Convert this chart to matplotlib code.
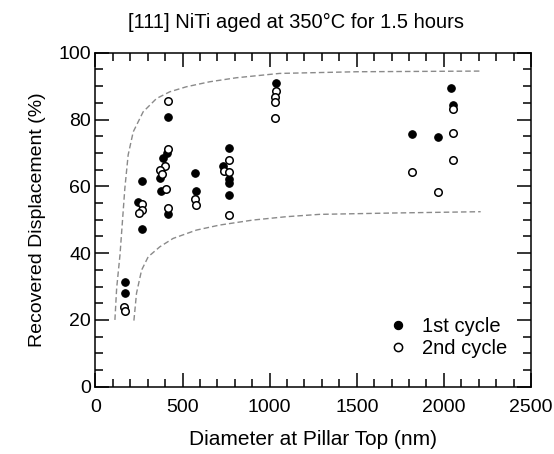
import matplotlib
matplotlib.use("Agg")
import matplotlib.pyplot as plt
from matplotlib.ticker import MultipleLocator

plt.rcParams['font.family'] = ['Liberation Sans', 'DejaVu Sans']

# 1st cycle (filled)
d1 = [170, 170, 268, 246, 268, 415, 412, 388, 372, 376, 415, 570, 575,
      767, 733, 767, 767, 767, 1034, 1816, 1967, 2043, 2053]
r1 = [31.4, 28.0, 61.6, 55.4, 47.1, 80.8, 69.9, 68.4, 62.4, 58.6, 51.8, 64.1, 58.5,
      71.6, 66.2, 62.2, 61.1, 57.4, 91.0, 75.6, 74.9, 89.5, 84.3]
# 2nd cycle (open)
d2 = [165, 170, 270, 270, 250, 418, 415, 400, 372, 385, 406, 415, 570, 580,
      767, 739, 767, 767, 1034, 1030, 1028, 1028, 2053, 2053, 2053, 1816, 1967]
r2 = [24.0, 22.7, 54.7, 52.9, 51.9, 85.5, 71.3, 66.1, 64.9, 63.6, 59.2, 53.5, 56.1, 54.4,
      67.9, 64.6, 64.4, 51.4, 88.5, 86.8, 85.3, 80.5, 83.1, 75.9, 67.9, 64.2, 58.4]

# dashed guide curves
upper_d = [112, 122, 141, 169, 188, 217, 274, 351, 427, 522, 656, 809, 1057, 1500, 2211]
upper_v = [20, 29.5, 39.4, 59.4, 69.4, 76.3, 82.3, 86.3, 88.3, 89.8, 91.3, 92.5, 93.8, 94.3, 94.5]
lower_d = [221, 236, 265, 303, 370, 446, 580, 713, 904, 1095, 1286, 1700, 2211]
lower_v = [19.8, 28.0, 34.9, 38.9, 41.9, 44.4, 46.9, 48.4, 49.9, 50.9, 51.6, 52.0, 52.4]

title = "[111] NiTi aged at 350°C for 1.5 hours"
xlabel = "Diameter at Pillar Top (nm)"
ylabel = "Recovered Displacement (%)"

fig = plt.figure(figsize=(5.54, 4.54), dpi=100)
ax = fig.add_axes([0.1722, 0.1482, 0.7863, 0.7357])

ax.plot(upper_d, upper_v, color='#8a8a8a', lw=1.0, dashes=(4, 2.2))
ax.plot(lower_d, lower_v, color='#8a8a8a', lw=1.0, dashes=(4, 2.2))

ax.plot(d1, r1, 'o', ms=5.4, mfc='black', mec='black', mew=0.8, ls='none', label='1st cycle')
ax.plot(d2, r2, 'o', ms=5.4, mfc='white', mec='black', mew=1.1, ls='none', label='2nd cycle')

ax.set_xlim(0, 2500)
ax.set_ylim(0, 100)
ax.xaxis.set_major_locator(MultipleLocator(500))
ax.xaxis.set_minor_locator(MultipleLocator(100))
ax.yaxis.set_major_locator(MultipleLocator(20))
ax.yaxis.set_minor_locator(MultipleLocator(5))
ax.tick_params(which='both', direction='in', top=True, right=True, width=1.1, labelsize=14)
ax.tick_params(which='major', length=10)
ax.tick_params(which='minor', length=5.5)
ax.tick_params(axis='x', which='major', pad=9)
ax.tick_params(axis='y', which='major', pad=3)
for s in ax.spines.values():
    s.set_linewidth(1.1)

ax.set_xlabel(xlabel, fontsize=15, labelpad=10)
ax.set_ylabel(ylabel, fontsize=14, labelpad=9)
fig.text(296/554, 1 - 22/454, title, ha='center', va='center', fontsize=14.5)

ax.legend(loc='upper left', bbox_to_anchor=(0.667, 0.21), frameon=False, fontsize=14.5,
          handletextpad=0.6, labelspacing=0.15, handlelength=1.2, borderaxespad=0,
          borderpad=0, markerscale=1.1)

fig.savefig('out.png', dpi=100)
